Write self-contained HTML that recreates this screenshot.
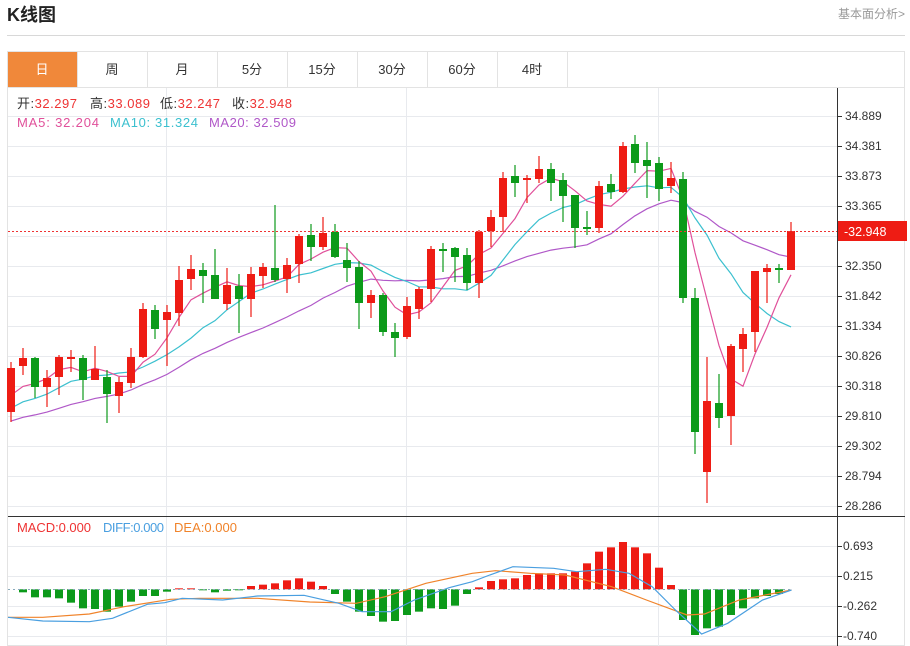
<!DOCTYPE html>
<html><head><meta charset="utf-8"><style>
body{margin:0;width:910px;height:646px;overflow:hidden;background:#fff;font-family:"Liberation Sans","Noto Sans CJK SC",sans-serif;}
#c{position:absolute;left:0;top:0;}
</style></head><body>
<svg id="c" width="910" height="646" xmlns="http://www.w3.org/2000/svg" font-family="Liberation Sans, Noto Sans CJK SC, sans-serif">
<text x="7" y="21" font-size="18" font-weight="bold" fill="#222">K线图</text>
<text x="905" y="18" font-size="12" fill="#999" text-anchor="end">基本面分析&gt;</text>
<line x1="7" y1="35.5" x2="905" y2="35.5" stroke="#d8d8d8"/>
<rect x="7.5" y="51.5" width="897" height="594" fill="none" stroke="#e3e3e3"/>
<line x1="7" y1="87.5" x2="905" y2="87.5" stroke="#e3e3e3"/>
<rect x="8" y="52" width="69" height="35" fill="#f0883a"/>
<g font-size="13" fill="#333" text-anchor="middle">
<text x="42" y="74" fill="#fff">日</text>
<text x="112" y="74">周</text><text x="182" y="74">月</text><text x="252" y="74">5分</text><text x="322" y="74">15分</text><text x="392" y="74">30分</text><text x="462" y="74">60分</text><text x="532" y="74">4时</text>
</g>
<g stroke="#e3e3e3"><line x1="77.5" y1="52" x2="77.5" y2="87"/><line x1="147.5" y1="52" x2="147.5" y2="87"/><line x1="217.5" y1="52" x2="217.5" y2="87"/><line x1="287.5" y1="52" x2="287.5" y2="87"/><line x1="357.5" y1="52" x2="357.5" y2="87"/><line x1="427.5" y1="52" x2="427.5" y2="87"/><line x1="497.5" y1="52" x2="497.5" y2="87"/><line x1="567.5" y1="52" x2="567.5" y2="87"/></g>
<g id="grid"></g>
<g id="ma"></g>
<g id="cand"></g>
<g id="macd"></g>
<line x1="837.5" y1="88" x2="837.5" y2="646" stroke="#333"/>
<line x1="8" y1="516.5" x2="905" y2="516.5" stroke="#333"/>
<line x1="8" y1="231.5" x2="837" y2="231.5" stroke="#e33" stroke-dasharray="2,2"/>
<line x1="8" y1="589.5" x2="790" y2="589.5" stroke="#8ab" stroke-dasharray="2,3"/>
<rect x="838" y="221" width="69" height="20" fill="#ee1c14"/>
<text x="844" y="236" font-size="12.5" fill="#fff">-32.948</text>
<g id="ax" font-size="12" fill="#333"></g>
<g font-size="13">
<text x="17" y="108" textLength="60" fill="#333">开:<tspan fill="#e33">32.297</tspan></text>
<text x="90" y="108" textLength="60" fill="#333">高:<tspan fill="#e33">33.089</tspan></text>
<text x="160" y="108" textLength="60" fill="#333">低:<tspan fill="#e33">32.247</tspan></text>
<text x="232" y="108" textLength="60" fill="#333">收:<tspan fill="#e33">32.948</tspan></text>
<text x="17" y="127" textLength="82" fill="#e0509a">MA5: 32.204</text>
<text x="110" y="127" textLength="88" fill="#3cc0cf">MA10: 31.324</text>
<text x="209" y="127" textLength="87" fill="#b058c8">MA20: 32.509</text>
<text x="17" y="532" textLength="74" fill="#e33">MACD:0.000</text>
<text x="103" y="532" textLength="61" fill="#4a9fe0">DIFF:0.000</text>
<text x="174" y="532" textLength="63" fill="#f0832a">DEA:0.000</text>
</g>
</svg>
<script>
var NS="http://www.w3.org/2000/svg";
function el(p,t,a){var e=document.createElementNS(NS,t);for(var k in a)e.setAttribute(k,a[k]);document.getElementById(p).appendChild(e);return e;}
var ticks=["34.889","34.381","33.873","33.365","32.857","32.350","31.842","31.334","30.826","30.318","29.810","29.302","28.794","28.286"];
for(var i=0;i<14;i++){var y=116+i*30;
 el("grid","line",{x1:8,x2:837,y1:y+.5,y2:y+.5,stroke:"#e8eaee"});
 if(i!=4){el("ax","line",{x1:837,x2:842,y1:y+.5,y2:y+.5,stroke:"#333"});var t=el("ax","text",{x:845,y:y+4});t.textContent=ticks[i];}
}
var mt=[["0.693",546],["0.215",576],["-0.262",606],["-0.740",636]];
mt.forEach(function(m){el("grid","line",{x1:8,x2:837,y1:m[1]+.5,y2:m[1]+.5,stroke:"#e8eaee"});el("ax","line",{x1:837,x2:842,y1:m[1]+.5,y2:m[1]+.5,stroke:"#333"});var t=el("ax","text",{x:843,y:m[1]+4});t.textContent=m[0];});
[166,406,658].forEach(function(x){el("grid","line",{x1:x+.5,x2:x+.5,y1:88,y2:646,stroke:"#e8eaee"});});
var C=[[412,368,362,422],[366,358,348,375],[358,387,357,398],[387,378,370,407],[377,357,355,395],[359,357,350,372],[358,380,355,400],[380,369,346,380],[377,394,370,423],[396,382,377,413],[383,357,348,388],[357,309,303,358],[310,329,305,339],[320,312,305,366],[313,280,266,326],[279,269,255,290],[270,276,263,303],[275,299,249,299],[304,285,268,310],[286,299,274,333],[299,274,267,317],[276,267,263,288],[268,280,205,282],[279,265,258,293],[264,236,234,283],[235,247,224,261],[247,233,217,250],[232,257,224,258],[260,268,243,282],[267,303,261,329],[303,295,290,318],[295,332,293,336],[332,338,323,357],[337,306,297,339],[309,289,287,319],[289,249,246,302],[249,251,243,272],[248,257,247,282],[255,283,248,290],[283,232,230,298],[231,217,210,247],[217,178,172,232],[176,183,165,197],[180,178,175,203],[179,169,156,183],[169,183,163,201],[180,196,173,222],[195,228,195,248],[227,229,211,235],[228,186,181,233],[184,192,174,199],[192,146,142,193],[144,163,135,173],[160,166,142,198],[163,189,157,201],[186,178,162,193],[179,298,172,303],[298,432,288,454],[472,401,357,503],[403,418,374,428],[416,346,344,445],[349,334,328,372],[332,271,271,352],[272,268,264,303],[268,270,264,283],[270,231,222,270]];
var X=function(i){return 11+12*i;};
C.forEach(function(c,i){var x=X(i),up=c[1]<c[0],col=up?"#ee1c14":"#0c9a1a";
 el("cand","line",{x1:x,x2:x,y1:c[2],y2:c[3],stroke:col,"stroke-width":1.2});
 var t=Math.min(c[0],c[1]),h=Math.max(2,Math.abs(c[0]-c[1]));
 el("cand","rect",{x:x-4,y:t,width:8,height:h,fill:col});
});
var closes=[];for(var k=0;k<10;k++)closes.push(434);for(k=0;k<5;k++)closes.push(421);for(k=0;k<4;k++)closes.push(402);
C.forEach(function(c){closes.push(c[1]);});
function ma(n,col){var pts=[];for(var i=0;i<C.length;i++){var j=i+19,s=0;for(var q=0;q<n;q++)s+=closes[j-q];pts.push(X(i)+","+(s/n).toFixed(1));}
 el("ma","polyline",{points:pts.join(" "),fill:"none",stroke:col,"stroke-width":1.2});}
ma(20,"#b058c8");ma(10,"#3cc0cf");ma(5,"#e0509a");
var B=[247,262,262,265,278,295,297,305,290,275,258,258,245,235,235,240,247,242,240,228,224,220,211,205,215,228,252,275,305,318,335,333,315,305,295,297,287,252,232,213,208,205,195,190,190,190,185,160,125,112,96,112,130,173,225,330,375,355,350,315,295,265,258,252];
var Z=589.3;
B.forEach(function(b,i){var y=510+b/3,x=X(i+1);var up=y<Z;
 el("macd","rect",{x:x-4,y:Math.min(y,Z),width:8,height:Math.max(1,Math.abs(y-Z)),fill:up?"#ee1c14":"#0c9a1a"});});
function ln(a,col){el("macd","polyline",{points:a.map(function(p){return (p[0]/1.723+8).toFixed(1)+","+(510+p[1]/3).toFixed(1);}).join(" "),fill:"none",stroke:col,"stroke-width":1.2});}
ln([[0,322],[60,322],[140,312],[200,290],[280,268],[330,265],[430,265],[520,276],[600,280],[650,260],[720,220],[800,190],[840,182],[900,190],[960,195],[1040,230],[1100,270],[1170,315],[1200,312],[1260,270],[1350,240]],"#f0832a");
ln([[0,322],[60,333],[140,335],[180,325],[240,283],[270,278],[300,265],[370,270],[430,258],[510,256],[570,280],[610,305],[660,305],[700,270],[760,233],[800,215],[830,195],[870,170],[940,175],[980,185],[1030,178],[1070,190],[1110,230],[1150,300],[1195,372],[1240,340],[1300,270],[1350,240]],"#4a9fe0");
</script>
</body></html>
